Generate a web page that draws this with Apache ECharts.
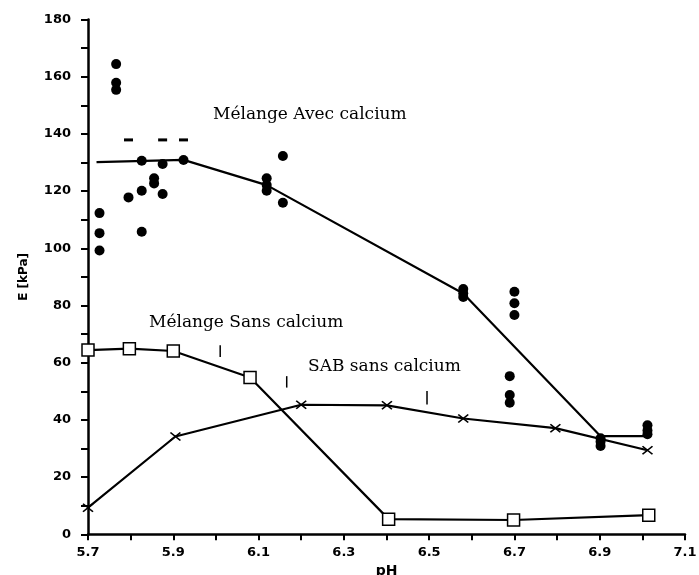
<!DOCTYPE html>
<html>
<head>
<meta charset="utf-8">
<script src="https://cdn.jsdelivr.net/npm/echarts@6/dist/echarts.min.js"></script>
<style>
html,body{margin:0;padding:0;background:#fff;}
#chart{width:699px;height:575px;}
</style>
</head>
<body>
<div id="chart"></div>
<script>
// Mélange Avec calcium: individual measurements [pH, E]
const avecPoints = [
  [5.727,112.3],[5.727,105.3],[5.727,99.2],
  [5.766,164.4],[5.766,157.9],[5.766,155.4],
  [5.795,117.8],
  [5.826,130.6],[5.826,120.1],[5.826,105.8],
  [5.855,124.5],[5.855,122.7],
  [5.875,129.5],[5.875,119.0],
  [5.924,130.9],
  [6.119,124.5],[6.119,122.1],[6.119,120.1],
  [6.157,132.3],[6.157,115.9],
  [6.58,85.8],[6.58,84.3],[6.58,83.0],
  [6.70,84.8],[6.70,80.8],[6.70,76.7],
  [6.689,55.3],[6.689,48.7],[6.689,46.0],
  [6.902,33.6],[6.902,32.4],[6.902,30.9],
  [7.012,38.1],[7.012,36.3],[7.012,35.0]
];
// clipped points shown as short dashes at the top of the cluster
const avecDashes = [[5.795,137.9],[5.875,137.9],[5.924,137.9]];
// Mélange Avec calcium: mean curve
const avecLine = [[5.72,130.1],[5.924,130.9],[6.119,122.1],[6.58,84.2],[6.902,34.3],[7.012,34.3]];
// Mélange Sans calcium (squares)
const sansLine = [[5.70,64.4],[5.797,64.9],[5.90,64.1],[6.08,54.8],[6.405,5.3],[6.698,5.0],[7.015,6.7]];
// SAB sans calcium (crosses)
const sabLine = [[5.70,9.3],[5.905,34.2],[6.20,45.3],[6.401,45.1],[6.58,40.5],[6.796,37.1],[7.012,29.4]];
// small error bars [pH, low, high]
const errorBars = [[6.01,62.0,66.1],[6.166,51.3,55.3],[6.495,45.4,50.1]];
// annotation texts
const labelAvec = 'Mélange Avec calcium';
const labelSans = 'Mélange Sans calcium';
const labelSab = 'SAB sans calcium';
const xName = 'pH';
const yName = 'E [kPa]';

const chart = echarts.init(document.getElementById('chart'));
const tickFont = {fontFamily:'DejaVu Sans', fontWeight:'bold', fontSize:13, color:'#000'};
const serif = {fontFamily:'DejaVu Serif', fontSize:17, fill:'#000'};

chart.setOption({
  animation:false,
  backgroundColor:'#fff',
  grid:{left:88, right:14, top:19.5, bottom:40.7, containLabel:false, outerBoundsMode:'none'},
  xAxis:{
    type:'value', min:5.7, max:7.1, interval:0.1,
    name:xName, nameLocation:'middle', nameGap:30,
    nameTextStyle:{fontFamily:'DejaVu Sans', fontWeight:'bold', fontSize:14, color:'#000'},
    axisLine:{lineStyle:{color:'#000', width:2.5}},
    axisTick:{show:true, length:6, lineStyle:{color:'#000', width:2}},
    axisLabel:Object.assign({margin:12, formatter:function(v){const k=Math.round(v*10);return (k%2===1)?(k/10).toFixed(1):'';}}, tickFont),
    splitLine:{show:false}
  },
  yAxis:{
    type:'value', min:0, max:180, interval:10,
    name:yName, nameLocation:'middle', nameGap:58, nameRotate:90,
    nameTextStyle:{fontFamily:'DejaVu Sans', fontWeight:'bold', fontSize:12, color:'#000'},
    axisLine:{show:true, lineStyle:{color:'#000', width:2.5}},
    axisTick:{show:true, length:7, lineStyle:{color:'#000', width:2}},
    axisLabel:Object.assign({margin:17, formatter:function(v){return (Math.round(v)%20===0)?String(Math.round(v)):'';}}, tickFont),
    splitLine:{show:false}
  },
  series:[
    {type:'line', data:avecLine, symbol:'none', lineStyle:{color:'#000', width:2.2}, z:2},
    {type:'scatter', data:avecPoints, symbol:'circle', symbolSize:10, itemStyle:{color:'#000', opacity:1}, z:3},
    {type:'scatter', data:avecDashes, symbol:'rect', symbolSize:[9,3], itemStyle:{color:'#000', opacity:1}, z:3},
    {type:'line', data:sabLine, symbol:'path://M0,0L10,10M0,10L10,0', symbolSize:[10,8], showAllSymbol:true,
      lineStyle:{color:'#000', width:2.2}, itemStyle:{color:'none', borderColor:'#000', borderWidth:1.5}, z:4},
    {type:'line', data:sansLine, symbol:'rect', symbolSize:12, showAllSymbol:true,
      lineStyle:{color:'#000', width:2.2}, itemStyle:{color:'#fff', borderColor:'#000', borderWidth:1.5}, z:5},
    {type:'custom', data:errorBars, z:4,
      renderItem:function(params, api){
        const a = api.coord([api.value(0), api.value(1)]);
        const b = api.coord([api.value(0), api.value(2)]);
        return {type:'line', shape:{x1:a[0], y1:a[1], x2:b[0], y2:b[1]}, style:{stroke:'#000', lineWidth:1.5}};
      }}
  ],
  graphic:[
    {type:'text', left:213, top:106, style:Object.assign({text:labelAvec}, serif)},
    {type:'text', left:149, top:314, style:Object.assign({text:labelSans}, serif)},
    {type:'text', left:308, top:358, style:Object.assign({text:labelSab}, serif)}
  ]
});
</script>
</body>
</html>
